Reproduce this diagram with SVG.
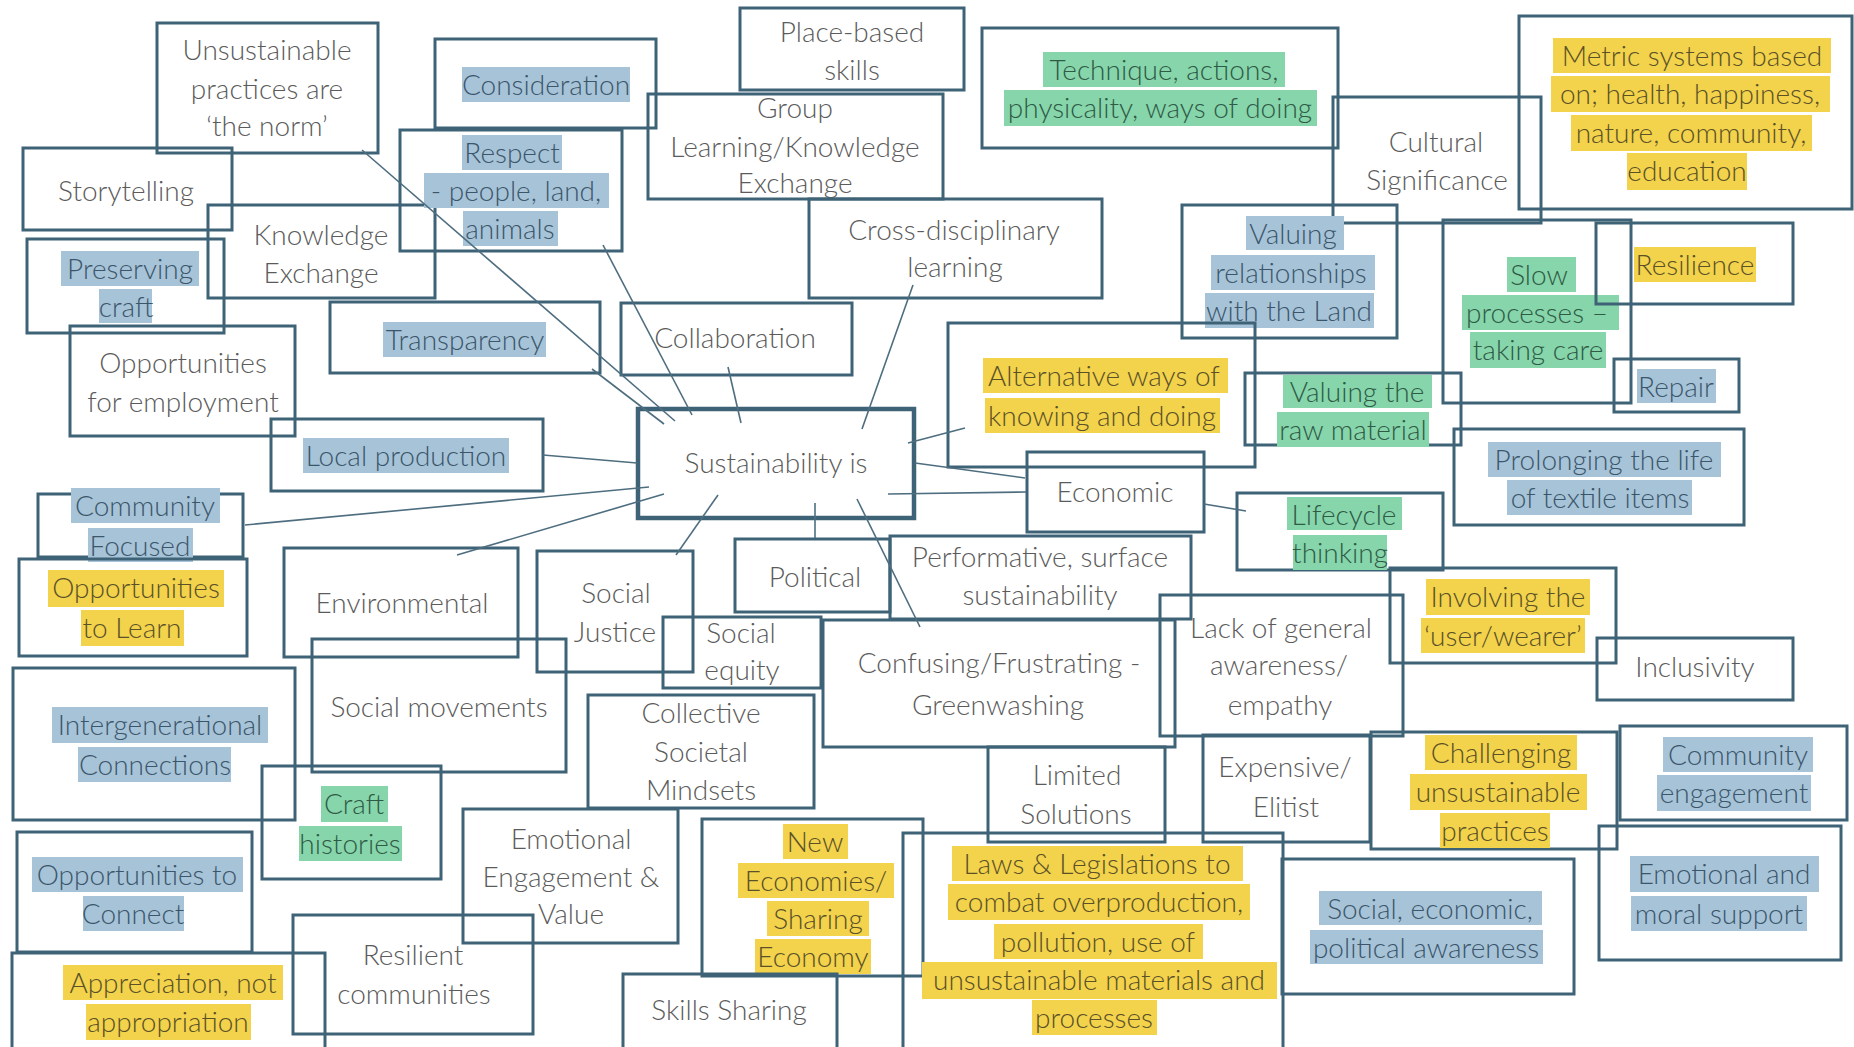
<svg xmlns="http://www.w3.org/2000/svg" width="1854" height="1047" viewBox="0 0 1854 1047">
<style>
  .box { fill: none; stroke: #3e6276; stroke-width: 3; }
  .hub { stroke-width: 4.5; }
  text { font-family: Lato, "Liberation Sans", sans-serif; font-size: 28px; font-weight: 300; text-anchor: middle; fill: #5b5b5b; }
  .hb { fill: #a7c3d8; }
  .hy { fill: #f3d24c; }
  .hg { fill: #86d5ab; }
  text.tb { fill: #3b566a; }
  text.ty { fill: #5a5128; }
  text.tg { fill: #2f5a45; }
  .links line { stroke: #4e6e80; stroke-width: 1.6; }
</style>
<rect x="0" y="0" width="1854" height="1047" fill="#ffffff"/>

<g id="unsustainable-norm">
  <rect class="box" x="157" y="23" width="221" height="130"/>
  <text><tspan x="267" y="60">Unsustainable</tspan><tspan x="267" y="99">practices are</tspan><tspan x="267" y="136">‘the norm’</tspan></text>
</g>
<g id="storytelling">
  <rect class="box" x="23" y="148" width="209" height="82"/>
  <text x="126" y="201">Storytelling</text>
</g>
<g id="knowledge-exchange">
  <rect class="box" x="208" y="205" width="227" height="93"/>
  <text><tspan x="321" y="245">Knowledge</tspan><tspan x="321" y="283">Exchange</tspan></text>
</g>
<g id="preserving-craft">
  <rect class="box" x="27" y="239" width="197" height="94"/>
  <rect class="hb" x="61" y="251" width="138" height="35"/>
  <rect class="hb" x="99" y="289" width="53" height="34"/>
  <text class="tb"><tspan x="130" y="279">Preserving</tspan><tspan x="126" y="317">craft</tspan></text>
</g>
<g id="opportunities-employment">
  <rect class="box" x="70" y="326" width="225" height="110"/>
  <text><tspan x="183" y="373">Opportunities</tspan><tspan x="183" y="412">for employment</tspan></text>
</g>
<g id="transparency">
  <rect class="box" x="330" y="302" width="270" height="71"/>
  <rect class="hb" x="383" y="322" width="163" height="35"/>
  <text class="tb" x="465" y="350">Transparency</text>
</g>
<g id="consideration">
  <rect class="box" x="435" y="39" width="221" height="89"/>
  <rect class="hb" x="462" y="67" width="168" height="35"/>
  <text class="tb" x="546" y="95">Consideration</text>
</g>
<g id="respect">
  <rect class="box" x="400" y="130" width="222" height="121"/>
  <rect class="hb" x="462" y="135" width="100" height="35"/>
  <rect class="hb" x="424" y="173" width="185" height="35"/>
  <rect class="hb" x="463" y="211" width="95" height="35"/>
  <text class="tb"><tspan x="512" y="163">Respect</tspan><tspan x="516" y="201">- people, land,</tspan><tspan x="510" y="239">animals</tspan></text>
</g>
<g id="place-based-skills">
  <rect class="box" x="740" y="8" width="224" height="82"/>
  <text><tspan x="852" y="42">Place-based</tspan><tspan x="852" y="80">skills</tspan></text>
</g>
<g id="group-learning">
  <rect class="box" x="648" y="94" width="295" height="105"/>
  <text><tspan x="795" y="118">Group</tspan><tspan x="795" y="157">Learning/Knowledge</tspan><tspan x="795" y="193">Exchange</tspan></text>
</g>
<g id="cross-disciplinary">
  <rect class="box" x="809" y="199" width="293" height="99"/>
  <text><tspan x="954" y="240">Cross-disciplinary</tspan><tspan x="955" y="277">learning</tspan></text>
</g>
<g id="collaboration">
  <rect class="box" x="621" y="303" width="231" height="72"/>
  <text x="735" y="348">Collaboration</text>
</g>
<g id="technique">
  <rect class="box" x="982" y="28" width="356" height="120"/>
  <rect class="hg" x="1043" y="52" width="242" height="35"/>
  <rect class="hg" x="1004" y="90" width="313" height="36"/>
  <text class="tg"><tspan x="1164" y="80">Technique,  actions,</tspan><tspan x="1160" y="118">physicality, ways of  doing</tspan></text>
</g>
<g id="cultural-significance">
  <rect class="box" x="1333" y="97" width="208" height="126"/>
  <text><tspan x="1436" y="152">Cultural</tspan><tspan x="1437" y="190">Significance</tspan></text>
</g>
<g id="metric-systems">
  <rect class="box" x="1519" y="16" width="333" height="193"/>
  <rect class="hy" x="1553" y="38" width="278" height="35"/>
  <rect class="hy" x="1551" y="76" width="279" height="36"/>
  <rect class="hy" x="1571" y="115" width="241" height="36"/>
  <rect class="hy" x="1627" y="153" width="120" height="37"/>
  <text class="ty"><tspan x="1692" y="66">Metric systems based</tspan><tspan x="1690" y="104">on; health, happiness,</tspan><tspan x="1691" y="143">nature, community,</tspan><tspan x="1687" y="181">education</tspan></text>
</g>
<g id="valuing-land">
  <rect class="box" x="1182" y="205" width="215" height="133"/>
  <rect class="hb" x="1246" y="216" width="98" height="34"/>
  <rect class="hb" x="1211" y="255" width="164" height="35"/>
  <rect class="hb" x="1205" y="293" width="169" height="35"/>
  <text class="tb"><tspan x="1293" y="244">Valuing</tspan><tspan x="1291" y="283">relationships</tspan><tspan x="1289" y="321">with the Land</tspan></text>
</g>
<g id="slow-processes">
  <rect class="box" x="1443" y="220" width="188" height="183"/>
  <rect class="hg" x="1507" y="257" width="69" height="35"/>
  <rect class="hg" x="1462" y="295" width="157" height="35"/>
  <rect class="hg" x="1470" y="332" width="136" height="36"/>
  <text class="tg"><tspan x="1539" y="285">Slow</tspan><tspan x="1537" y="323">processes –</tspan><tspan x="1538" y="360">taking care</tspan></text>
</g>
<g id="resilience">
  <rect class="box" x="1596" y="223" width="197" height="81"/>
  <rect class="hy" x="1634" y="247" width="122" height="35"/>
  <text class="ty" x="1695" y="275">Resilience</text>
</g>
<g id="alternative-ways">
  <rect class="box" x="948" y="323" width="307" height="144"/>
  <rect class="hy" x="983" y="358" width="245" height="35"/>
  <rect class="hy" x="985" y="398" width="235" height="35"/>
  <text class="ty"><tspan x="1104" y="386">Alternative ways of</tspan><tspan x="1102" y="426">knowing and doing</tspan></text>
</g>
<g id="valuing-raw-material">
  <rect class="box" x="1245" y="373" width="216" height="72"/>
  <rect class="hg" x="1283" y="375" width="149" height="33"/>
  <rect class="hg" x="1277" y="412" width="152" height="35"/>
  <text class="tg"><tspan x="1357" y="402">Valuing the</tspan><tspan x="1353" y="440">raw material</tspan></text>
</g>
<g id="repair">
  <rect class="box" x="1614" y="359" width="125" height="53"/>
  <rect class="hb" x="1637" y="369" width="79" height="34"/>
  <text class="tb" x="1676" y="397">Repair</text>
</g>
<g id="prolonging-life">
  <rect class="box" x="1454" y="429" width="290" height="96"/>
  <rect class="hb" x="1488" y="442" width="233" height="35"/>
  <rect class="hb" x="1507" y="480" width="185" height="35"/>
  <text class="tb"><tspan x="1604" y="470">Prolonging the life</tspan><tspan x="1600" y="508">of  textile items</tspan></text>
</g>
<g id="sustainability-is">
  <rect class="box hub" x="638" y="409" width="276" height="109"/>
  <text x="776" y="473">Sustainability is</text>
</g>
<g id="economic">
  <rect class="box" x="1027" y="452" width="177" height="80"/>
  <text x="1115" y="502">Economic</text>
</g>
<g id="lifecycle-thinking">
  <rect class="box" x="1237" y="493" width="206" height="77"/>
  <rect class="hg" x="1287" y="497" width="115" height="33"/>
  <rect class="hg" x="1293" y="535" width="94" height="35"/>
  <text class="tg"><tspan x="1344" y="525">Lifecycle</tspan><tspan x="1340" y="563">thinking</tspan></text>
</g>
<g id="community-focused">
  <rect class="box" x="38" y="494" width="205" height="63"/>
  <rect class="hb" x="71" y="488" width="149" height="35"/>
  <rect class="hb" x="88" y="528" width="105" height="34"/>
  <text class="tb"><tspan x="145" y="516">Community</tspan><tspan x="140" y="556">Focused</tspan></text>
</g>
<g id="opportunities-learn">
  <rect class="box" x="19" y="559" width="228" height="97"/>
  <rect class="hy" x="48" y="570" width="176" height="37"/>
  <rect class="hy" x="81" y="610" width="103" height="36"/>
  <text class="ty"><tspan x="136" y="598">Opportunities</tspan><tspan x="132" y="638">to Learn</tspan></text>
</g>
<g id="local-production">
  <rect class="box" x="271" y="419" width="272" height="72"/>
  <rect class="hb" x="303" y="438" width="206" height="35"/>
  <text class="tb" x="406" y="466">Local production</text>
</g>
<g id="environmental">
  <rect class="box" x="284" y="548" width="234" height="109"/>
  <text x="402" y="613">Environmental</text>
</g>
<g id="social-justice">
  <rect class="box" x="537" y="551" width="156" height="121"/>
  <text><tspan x="616" y="603">Social</tspan><tspan x="615" y="642">Justice</tspan></text>
</g>
<g id="political">
  <rect class="box" x="735" y="539" width="155" height="73"/>
  <text x="815" y="587">Political</text>
</g>
<g id="performative">
  <rect class="box" x="890" y="536" width="301" height="83"/>
  <text><tspan x="1040" y="567">Performative, surface</tspan><tspan x="1040" y="605">sustainability</tspan></text>
</g>
<g id="social-equity">
  <rect class="box" x="663" y="617" width="158" height="71"/>
  <text><tspan x="741" y="643">Social</tspan><tspan x="742" y="680">equity</tspan></text>
</g>
<g id="confusing-greenwashing">
  <rect class="box" x="823" y="620" width="352" height="127"/>
  <text><tspan x="999" y="673">Confusing/Frustrating -</tspan><tspan x="998" y="715">Greenwashing</tspan></text>
</g>
<g id="lack-awareness">
  <rect class="box" x="1160" y="595" width="243" height="141"/>
  <text><tspan x="1281" y="638">Lack of general</tspan><tspan x="1279" y="675">awareness/</tspan><tspan x="1280" y="715">empathy</tspan></text>
</g>
<g id="involving-user">
  <rect class="box" x="1390" y="568" width="226" height="95"/>
  <rect class="hy" x="1426" y="579" width="164" height="36"/>
  <rect class="hy" x="1421" y="618" width="164" height="35"/>
  <text class="ty"><tspan x="1508" y="607">Involving the</tspan><tspan x="1503" y="646">‘user/wearer’</tspan></text>
</g>
<g id="inclusivity">
  <rect class="box" x="1597" y="638" width="196" height="62"/>
  <text x="1695" y="677">Inclusivity</text>
</g>
<g id="intergenerational">
  <rect class="box" x="13" y="668" width="282" height="152"/>
  <rect class="hb" x="52" y="707" width="216" height="36"/>
  <rect class="hb" x="78" y="747" width="153" height="35"/>
  <text class="tb"><tspan x="160" y="735">Intergenerational</tspan><tspan x="155" y="775">Connections</tspan></text>
</g>
<g id="social-movements">
  <rect class="box" x="312" y="639" width="254" height="133"/>
  <text x="439" y="717">Social movements</text>
</g>
<g id="collective-mindsets">
  <rect class="box" x="588" y="695" width="226" height="113"/>
  <text><tspan x="701" y="723">Collective</tspan><tspan x="701" y="762">Societal</tspan><tspan x="701" y="800">Mindsets</tspan></text>
</g>
<g id="craft-histories">
  <rect class="box" x="262" y="766" width="179" height="113"/>
  <rect class="hg" x="321" y="786" width="67" height="36"/>
  <rect class="hg" x="299" y="826" width="103" height="35"/>
  <text class="tg"><tspan x="354" y="814">Craft</tspan><tspan x="350" y="854">histories</tspan></text>
</g>
<g id="limited-solutions">
  <rect class="box" x="988" y="747" width="177" height="95"/>
  <text><tspan x="1077" y="785">Limited</tspan><tspan x="1076" y="824">Solutions</tspan></text>
</g>
<g id="expensive-elitist">
  <rect class="box" x="1203" y="735" width="167" height="107"/>
  <text><tspan x="1285" y="777">Expensive/</tspan><tspan x="1286" y="817">Elitist</tspan></text>
</g>
<g id="challenging-practices">
  <rect class="box" x="1371" y="732" width="246" height="117"/>
  <rect class="hy" x="1425" y="735" width="152" height="35"/>
  <rect class="hy" x="1410" y="774" width="177" height="36"/>
  <rect class="hy" x="1440" y="813" width="110" height="35"/>
  <text class="ty"><tspan x="1501" y="763">Challenging</tspan><tspan x="1498" y="802">unsustainable</tspan><tspan x="1495" y="841">practices</tspan></text>
</g>
<g id="community-engagement">
  <rect class="box" x="1620" y="726" width="227" height="94"/>
  <rect class="hb" x="1663" y="737" width="150" height="35"/>
  <rect class="hb" x="1657" y="775" width="154" height="36"/>
  <text class="tb"><tspan x="1738" y="765">Community</tspan><tspan x="1734" y="803">engagement</tspan></text>
</g>
<g id="opportunities-connect">
  <rect class="box" x="17" y="832" width="235" height="120"/>
  <rect class="hb" x="32" y="857" width="211" height="35"/>
  <rect class="hb" x="83" y="896" width="101" height="35"/>
  <text class="tb"><tspan x="137" y="885">Opportunities to</tspan><tspan x="133" y="924">Connect</tspan></text>
</g>
<g id="emotional-engagement">
  <rect class="box" x="463" y="809" width="215" height="134"/>
  <text><tspan x="571" y="849">Emotional</tspan><tspan x="571" y="887">Engagement  &amp;</tspan><tspan x="571" y="924">Value</tspan></text>
</g>
<g id="new-economies">
  <rect class="box" x="702" y="819" width="221" height="157"/>
  <rect class="hy" x="783" y="824" width="65" height="35"/>
  <rect class="hy" x="738" y="863" width="156" height="35"/>
  <rect class="hy" x="767" y="901" width="102" height="35"/>
  <rect class="hy" x="755" y="939" width="116" height="35"/>
  <text class="ty"><tspan x="815" y="852">New</tspan><tspan x="816" y="891">Economies/</tspan><tspan x="818" y="929">Sharing</tspan><tspan x="813" y="967">Economy</tspan></text>
</g>
<g id="laws-legislations">
  <rect class="box" x="903" y="833" width="380" height="220"/>
  <rect class="hy" x="952" y="846" width="291" height="35"/>
  <rect class="hy" x="948" y="884" width="302" height="36"/>
  <rect class="hy" x="994" y="924" width="209" height="35"/>
  <rect class="hy" x="922" y="962" width="355" height="37"/>
  <rect class="hy" x="1032" y="1000" width="125" height="35"/>
  <text class="ty"><tspan x="1097" y="874">Laws &amp; Legislations to</tspan><tspan x="1099" y="912">combat overproduction,</tspan><tspan x="1098" y="952">pollution, use of</tspan><tspan x="1099" y="990">unsustainable materials and</tspan><tspan x="1094" y="1028">processes</tspan></text>
</g>
<g id="social-economic-political">
  <rect class="box" x="1282" y="859" width="292" height="135"/>
  <rect class="hb" x="1319" y="891" width="223" height="34"/>
  <rect class="hb" x="1310" y="930" width="233" height="34"/>
  <text class="tb"><tspan x="1430" y="919">Social, economic,</tspan><tspan x="1426" y="958">political awareness</tspan></text>
</g>
<g id="emotional-moral-support">
  <rect class="box" x="1599" y="826" width="242" height="134"/>
  <rect class="hb" x="1630" y="856" width="189" height="36"/>
  <rect class="hb" x="1631" y="896" width="176" height="35"/>
  <text class="tb"><tspan x="1724" y="884">Emotional and</tspan><tspan x="1719" y="924">moral support</tspan></text>
</g>
<g id="resilient-communities">
  <rect class="box" x="293" y="915" width="240" height="119"/>
  <text><tspan x="413" y="965">Resilient</tspan><tspan x="414" y="1004">communities</tspan></text>
</g>
<g id="appreciation">
  <rect class="box" x="12" y="953" width="313" height="100"/>
  <rect class="hy" x="63" y="965" width="220" height="35"/>
  <rect class="hy" x="86" y="1004" width="165" height="36"/>
  <text class="ty"><tspan x="173" y="993">Appreciation, not</tspan><tspan x="168" y="1032">appropriation</tspan></text>
</g>
<g id="skills-sharing">
  <rect class="box" x="623" y="974" width="214" height="80"/>
  <text x="729" y="1020">Skills Sharing</text>
</g>

<!-- spokes into the central "Sustainability is" box -->
<g class="links" id="connectors">
  <line x1="362" y1="150" x2="675" y2="421"/>
  <line x1="592" y1="369" x2="664" y2="424"/>
  <line x1="603" y1="245" x2="692" y2="415"/>
  <line x1="728" y1="367" x2="741" y2="423"/>
  <line x1="913" y1="285" x2="862" y2="429"/>
  <line x1="543" y1="455" x2="637" y2="463"/>
  <line x1="245" y1="525" x2="649" y2="487"/>
  <line x1="457" y1="555" x2="664" y2="494"/>
  <line x1="676" y1="555" x2="718" y2="495"/>
  <line x1="815" y1="503" x2="815" y2="538"/>
  <line x1="857" y1="499" x2="920" y2="627"/>
  <line x1="908" y1="443" x2="965" y2="428"/>
  <line x1="915" y1="463" x2="1025" y2="478"/>
  <line x1="888" y1="494" x2="1026" y2="492"/>
  <line x1="1204" y1="504" x2="1246" y2="511"/>
</g>
</svg>
